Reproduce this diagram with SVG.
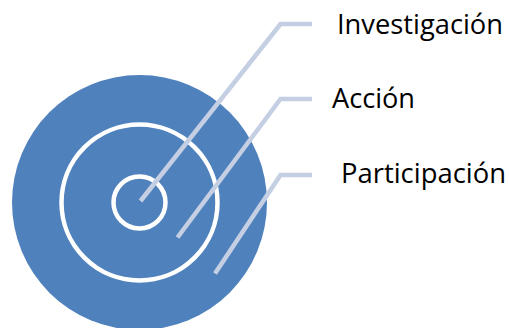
<svg xmlns="http://www.w3.org/2000/svg" width="509" height="328" viewBox="0 0 509 328">
<style>
.ring{fill:none;stroke:#ffffff;stroke-width:4.5}
.lead{fill:none;stroke:#c5cfe3;stroke-width:4.5;stroke-linejoin:miter}
.lbl{font-family:"Open Sans","Liberation Sans",sans-serif;font-size:28px;fill:#000000}
</style>
<rect width="509" height="328" fill="#ffffff"/>
<g id="participacion-circle">
<circle cx="139.5" cy="202.5" r="127.5" fill="#4f81bd"/>
</g>
<g id="accion-circle">
<circle cx="139.5" cy="202.5" r="78" class="ring"/>
</g>
<g id="investigacion-circle">
<circle cx="139.5" cy="202.5" r="26" class="ring"/>
</g>
<g id="connectors">
<polyline class="lead" points="140.5,201 280.5,24 312,24"/>
<polyline class="lead" points="177.5,237.5 280.5,99 312,99"/>
<polyline class="lead" points="215,273.5 280.5,175 312,175"/>
</g>
<g id="label-investigacion">
<text class="lbl" x="337" y="34" textLength="166" lengthAdjust="spacingAndGlyphs">Investigación</text>
</g>
<g id="label-accion">
<text class="lbl" x="332" y="108" textLength="83" lengthAdjust="spacingAndGlyphs">Acción</text>
</g>
<g id="label-participacion">
<text class="lbl" x="341" y="183" textLength="165" lengthAdjust="spacingAndGlyphs">Participación</text>
</g>
</svg>
